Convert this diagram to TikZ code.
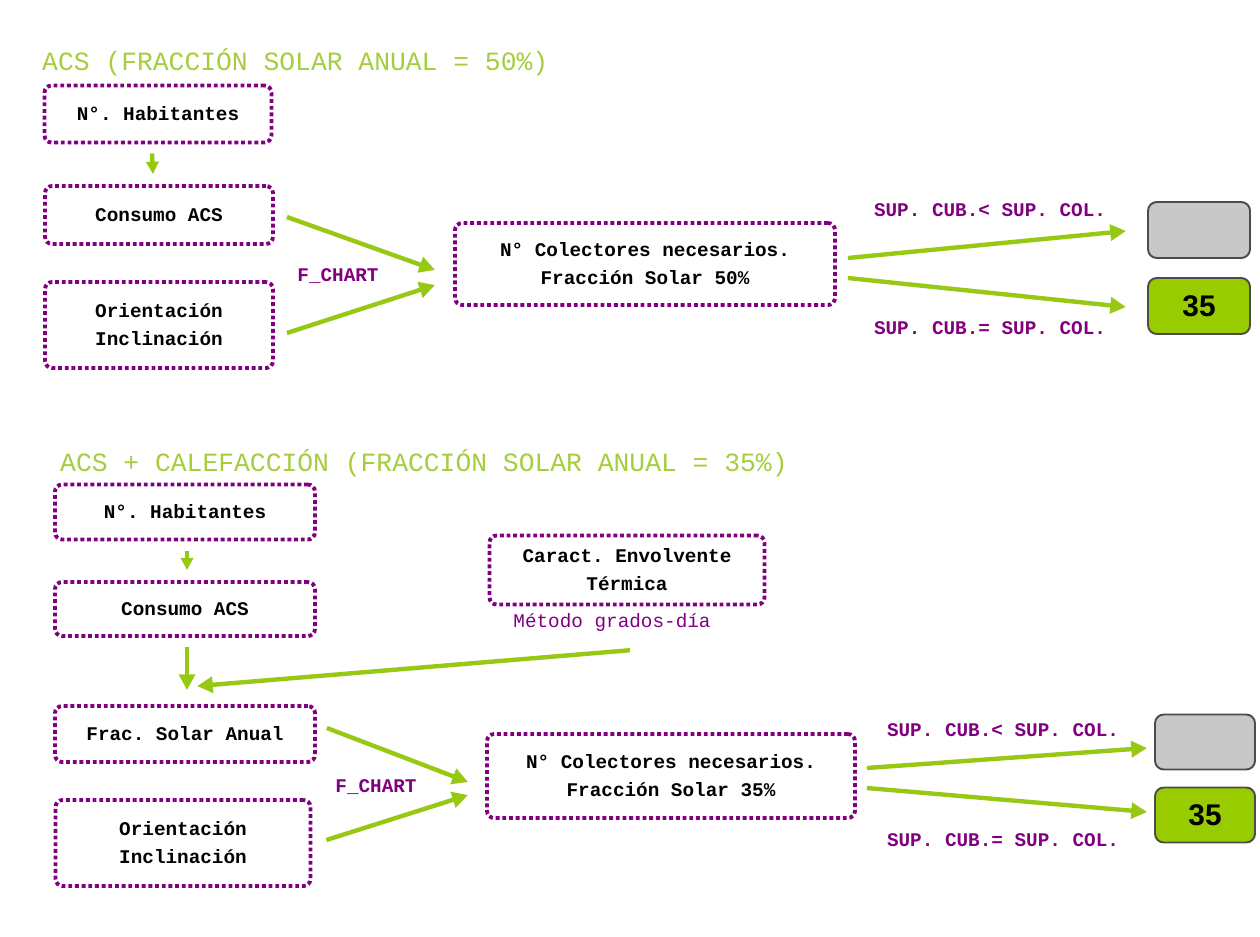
\documentclass[tikz,border=0pt]{standalone}
\usepackage{fontspec}
\setmonofont{Liberation Mono}
\setsansfont{Liberation Sans}
\usetikzlibrary{arrows.meta,calc}
\definecolor{lima}{RGB}{150,200,20}
\definecolor{limatxt}{RGB}{165,205,60}
\definecolor{morado}{RGB}{128,0,128}
\definecolor{gris}{RGB}{200,200,200}
\definecolor{verdecaja}{RGB}{153,204,0}
\begin{document}
\begin{tikzpicture}[x=0.02cm,y=-0.02cm,
caja/.style={draw=morado,line width=2.2pt,dash pattern=on 2.2pt off 1.6pt,rounded corners=4pt,align=center,inner sep=0pt,font=\ttfamily\bfseries\fontsize{11}{16}\selectfont},
flecha/.style={draw=lima,line width=2.5pt,-{Triangle[length=9pt,width=9pt]}},
result/.style={draw=black!70,line width=1.1pt,rounded corners=5pt,minimum width=2.04cm,minimum height=1.12cm,font=\sffamily\bfseries\fontsize{17}{20}\selectfont},
titulo/.style={anchor=west,text=limatxt,font=\ttfamily\fontsize{15}{18}\selectfont},
etiq/.style={text=morado,font=\ttfamily\bfseries\fontsize{11}{14}\selectfont}]
\useasboundingbox (0,0) rectangle (1260,936);
%% ACS
\node[titulo] (t1) at (36,62) {ACS (FRACCIÓN SOLAR ANUAL = 50\%)};
\node[caja,minimum width=4.54cm,minimum height=1.14cm] (b1) at (158,114) {N°. Habitantes};
\node[caja,minimum width=4.56cm,minimum height=1.16cm] (b2) at (159,215) {Consumo ACS};
\node[caja,minimum width=4.56cm,minimum height=1.72cm] (b3) at (159,325) {Orientación\\Inclinación};
\node[caja,minimum width=7.6cm,minimum height=1.64cm] (b4) at (645,264) {N° Colectores necesarios.\\Fracción Solar 50\%};
\node[result,fill=gris] (g1) at (1199,230) {};
\node[result,fill=verdecaja] (g2) at (1199,306) {35};
\node[etiq] (fc1) at (338,276) {F\_CHART};
\node[etiq] (s1) at (990,210) {SUP. CUB.< SUP. COL.};
\node[etiq] (s2) at (990,328) {SUP. CUB.= SUP. COL.};
\draw[flecha,-{Triangle[length=7pt,width=7pt]}] ($(b1.south)+(-6,9)$)--($(b2.north)+(-6,-10)$);
\draw[flecha] ($(b2.east)+(12,2)$)--($(b4.west)+(-18,6)$);
\draw[flecha] ($(b3.east)+(12,8)$)--($(b4.west)+(-18,21)$);
\draw[flecha] ($(b4.east)+(11,-6)$)--($(g1.west)+(-21,1)$);
\draw[flecha] ($(b4.east)+(11,14)$)--($(g2.west)+(-21,1)$);
%% ACS + calefaccion
\node[titulo] (t2) at (54,463) {ACS + CALEFACCIÓN (FRACCIÓN SOLAR ANUAL = 35\%)};
\node[caja,minimum width=5.2cm,minimum height=1.1cm] (c1) at (185,512) {N°. Habitantes};
\node[caja,minimum width=5.2cm,minimum height=1.08cm] (c2) at (185,609) {Consumo ACS};
\node[caja,minimum width=5.5cm,minimum height=1.38cm] (c3) at (627,570) {Caract. Envolvente\\Térmica};
\node[etiq,font=\ttfamily\fontsize{11}{14}\selectfont] (met) at (612,622) {Método grados-día};
\node[caja,minimum width=5.2cm,minimum height=1.12cm] (c4) at (185,734) {Frac. Solar Anual};
\node[caja,minimum width=5.1cm,minimum height=1.72cm] (c5) at (183,843) {Orientación\\Inclinación};
\node[caja,minimum width=7.36cm,minimum height=1.68cm] (c6) at (671,776) {N° Colectores necesarios.\\Fracción Solar 35\%};
\node[result,minimum width=2cm,minimum height=1.1cm,fill=gris] (g3) at (1205,742) {};
\node[result,minimum width=2cm,minimum height=1.1cm,fill=verdecaja] (g4) at (1205,815) {35};
\node[etiq] (fc2) at (376,787) {F\_CHART};
\node[etiq] (s3) at (1003,730) {SUP. CUB.< SUP. COL.};
\node[etiq] (s4) at (1003,840) {SUP. CUB.= SUP. COL.};
\draw[flecha,-{Triangle[length=7pt,width=7pt]}] ($(c1.south)+(2,10)$)--($(c2.north)+(2,-10)$);
\draw[flecha] ($(c2.south)+(2,9)$)--($(c4.north)+(2,-14)$);
\draw[flecha] ($(met.south)+(18,13)$)--($(c4.north)+(12,-18)$);
\draw[flecha] ($(c4.east)+(10,-6)$)--($(c6.west)+(-17,6)$);
\draw[flecha] ($(c5.east)+(14,-3)$)--($(c6.west)+(-17,19)$);
\draw[flecha] ($(c6.east)+(10,-8)$)--($(g3.west)+(-7,6)$);
\draw[flecha] ($(c6.east)+(10,12)$)--($(g4.west)+(-7,-3)$);
\end{tikzpicture}
\end{document}
